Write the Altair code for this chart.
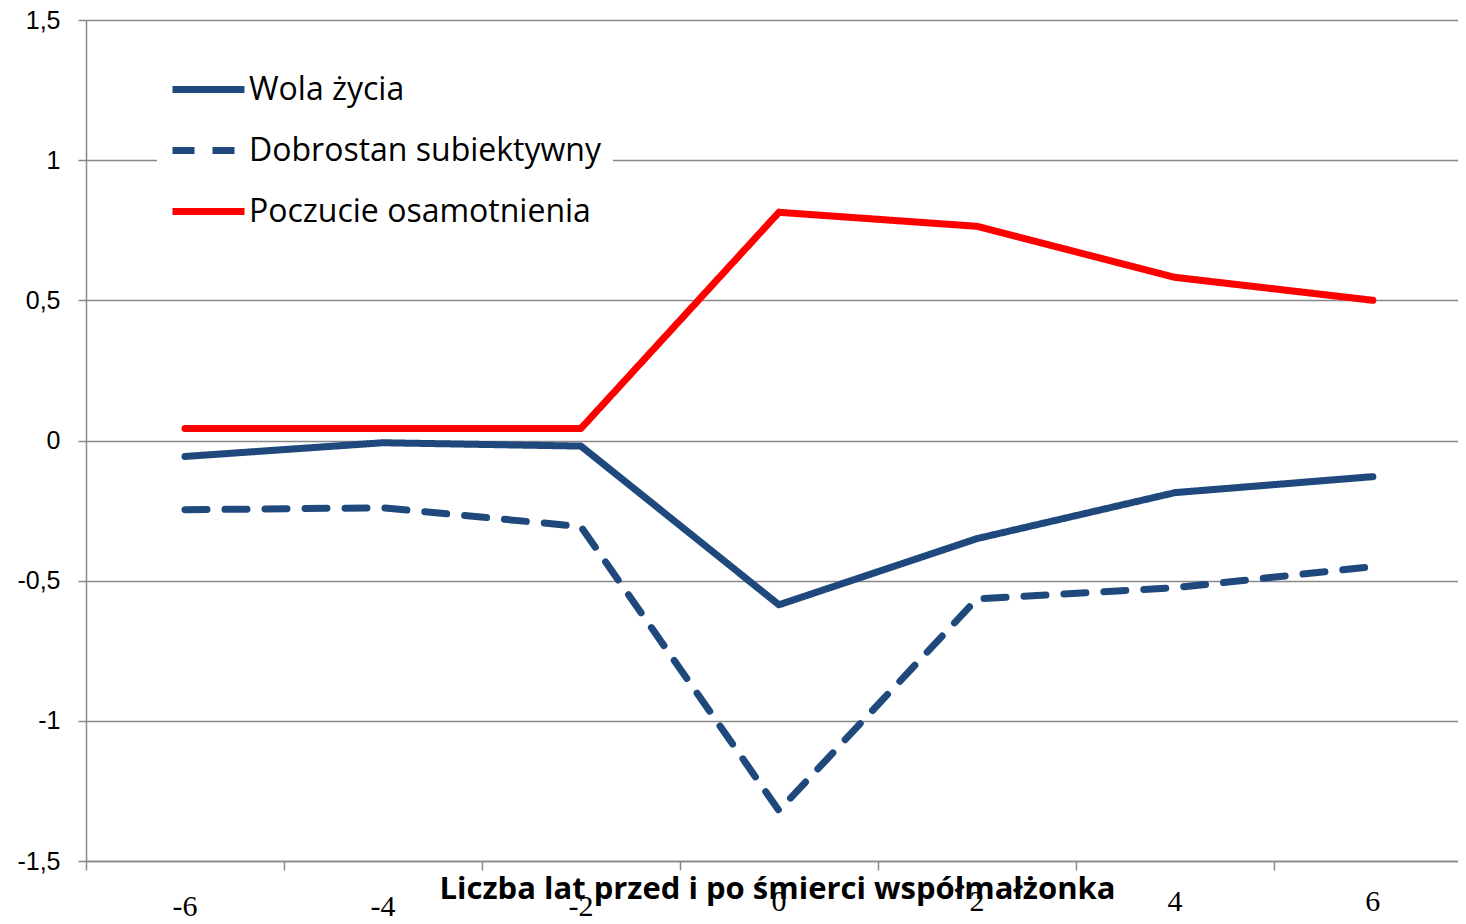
import altair as alt
import pandas as pd

years = [-6, -4, -2, 0, 2, 4, 6]
series = ["Wola życia", "Dobrostan subiektywny", "Poczucie osamotnienia"]
wola = [-0.057, -0.008, -0.02, -0.586, -0.35, -0.186, -0.129]
dobrostan = [-0.247, -0.24, -0.307, -1.32, -0.565, -0.525, -0.45]
poczucie = [0.043, 0.043, 0.043, 0.814, 0.764, 0.582, 0.5]
x_ticks = [-7, -5, -3, -1, 1, 3, 5]
y_ticks = [-1.5, -1, -0.5, 0, 0.5, 1, 1.5]
x_title = "Liczba lat przed i po śmierci współmałżonka"

NAVY = "#1F497D"
RED = "#FF0000"
GRAY = "#888888"

rows = []
for name, vals in zip(series, [wola, dobrostan, poczucie]):
    for yr, v in zip(years, vals):
        rows.append({"rok": yr, "wartosc": v, "seria": name})
df = pd.DataFrame(rows)
labels_df = pd.DataFrame({"rok": years, "etykieta": [str(y) for y in years]})

xscale = alt.Scale(domain=[-7, 6.86], nice=False, zero=False)
yscale = alt.Scale(domain=[-1.5, 1.5], nice=False, zero=False)

legend = alt.Legend(
    title=None,
    orient="none",
    legendX=71,
    legendY=18,
    fillColor="white",
    padding=12,
    symbolType="stroke",
    symbolSize=5184,
    symbolStrokeWidth=7,
    labelFont="Open Sans",
    labelFontSize=32,
    labelColor="black",
    labelOffset=1,
    labelLimit=600,
    rowPadding=5,
)

lines = alt.Chart(df).mark_line(strokeWidth=7, strokeCap="round", strokeJoin="round").encode(
    x=alt.X(
        "rok:Q",
        scale=xscale,
        axis=alt.Axis(
            values=x_ticks,
            labels=False,
            grid=False,
            tickSize=9,
            tickColor=GRAY,
            tickWidth=1.5,
            domainColor=GRAY,
            domainWidth=1.5,
            title=x_title,
            titleFont="Open Sans",
            titleFontSize=31,
            titleFontWeight="bold",
            titleColor="black",
            titlePadding=4,
            titleX=691,
        ),
    ),
    y=alt.Y(
        "wartosc:Q",
        scale=yscale,
        axis=alt.Axis(
            values=y_ticks,
            labelExpr="replace(toString(datum.value), '.', ',')",
            grid=True,
            gridColor=GRAY,
            gridWidth=1.5,
            tickSize=8,
            tickColor=GRAY,
            tickWidth=1.5,
            domainColor=GRAY,
            domainWidth=1.5,
            labelFont="Liberation Sans",
            labelFontSize=25,
            labelColor="black",
            labelPadding=18,
            title=None,
        ),
    ),
    color=alt.Color("seria:N", scale=alt.Scale(domain=series, range=[NAVY, NAVY, RED]), legend=legend),
    strokeDash=alt.StrokeDash(
        "seria:N",
        scale=alt.Scale(domain=series, range=[[1, 0], [22, 18], [1, 0]]),
        legend=legend,
    ),
)

lab_low = alt.Chart(labels_df).transform_filter("datum.rok < -1").mark_text(
    font="Liberation Sans Narrow", fontSize=30, color="black", baseline="middle", align="center"
).encode(x=alt.X("rok:Q", scale=xscale), y=alt.value(887), text="etykieta:N")

lab_high = alt.Chart(labels_df).transform_filter("datum.rok >= -1").mark_text(
    font="Liberation Sans Narrow", fontSize=30, color="black", baseline="middle", align="center"
).encode(x=alt.X("rok:Q", scale=xscale), y=alt.value(882), text="etykieta:N")

chart = alt.layer(lines, lab_low, lab_high).properties(
    width=1372,
    height=841,
    autosize="none",
    padding={"left": 78, "top": 12, "right": 0, "bottom": 62},
).configure_view(stroke=None).configure(background="white")

chart.save("out.html", embed_options={"renderer": "svg", "actions": False})
